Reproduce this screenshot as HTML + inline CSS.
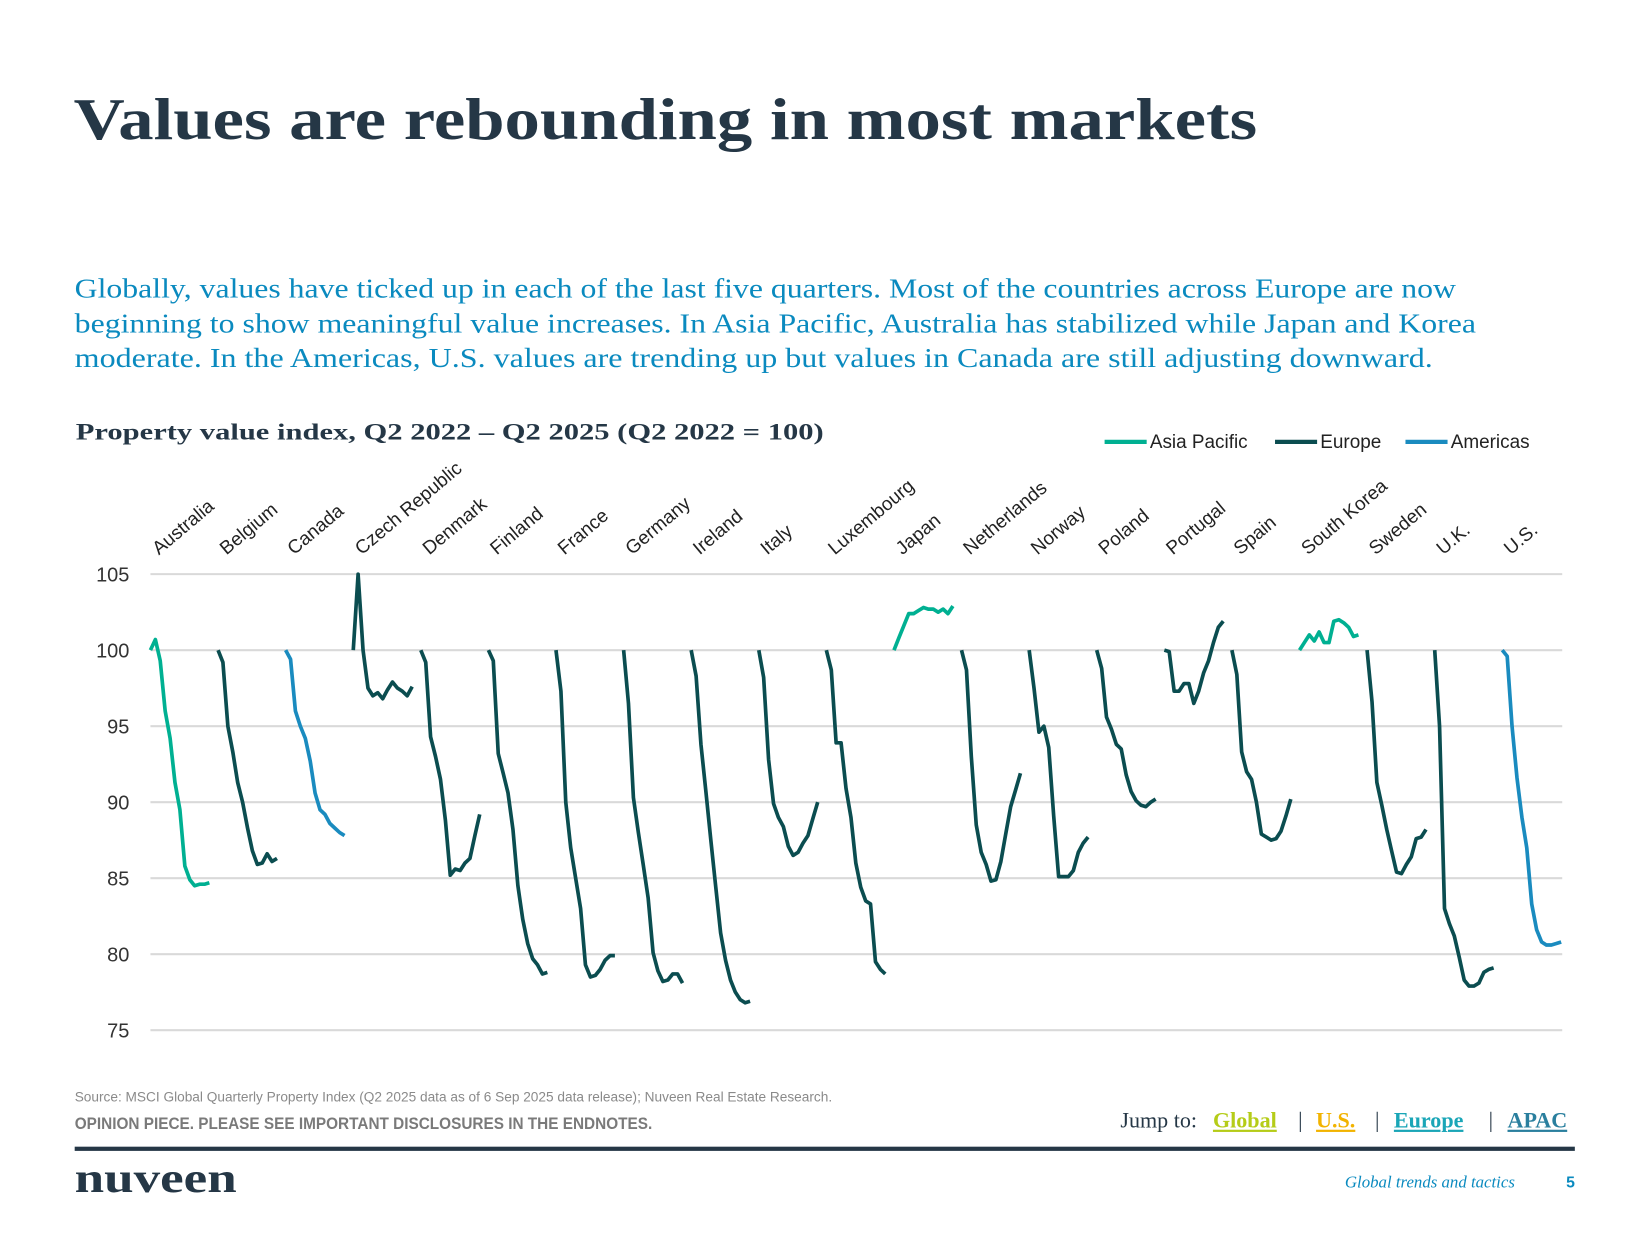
<!DOCTYPE html>
<html><head><meta charset="utf-8"><style>
html,body{margin:0;padding:0;background:#fff;}
svg{display:block;}
</style></head><body>
<svg id="s" width="1650" height="1238" viewBox="0 0 1650 1238" xmlns="http://www.w3.org/2000/svg">
<g transform="scale(1.052)">
<text x="70" y="132" font-family="Liberation Serif, serif" font-weight="bold" font-size="56" fill="#253746" textLength="1125" lengthAdjust="spacingAndGlyphs">Values are rebounding in most markets</text>
<g font-family="Liberation Serif, serif" font-size="26" fill="#0a8abf">
<text x="71" y="283" textLength="1313" lengthAdjust="spacingAndGlyphs">Globally, values have ticked up in each of the last five quarters. Most of the countries across Europe are now</text>
<text x="71" y="316" textLength="1332" lengthAdjust="spacingAndGlyphs">beginning to show meaningful value increases. In Asia Pacific, Australia has stabilized while Japan and Korea</text>
<text x="71" y="349" textLength="1291" lengthAdjust="spacingAndGlyphs">moderate. In the Americas, U.S. values are trending up but values in Canada are still adjusting downward.</text>
</g>
<text x="72" y="418" font-family="Liberation Serif, serif" font-weight="bold" font-size="22" fill="#253746" textLength="711" lengthAdjust="spacingAndGlyphs">Property value index, Q2 2022  – Q2 2025  (Q2 2022 = 100)</text>
<g font-family="Liberation Sans, sans-serif" font-size="18" fill="#222">
<line x1="1050" y1="420" x2="1090" y2="420" stroke="#00b092" stroke-width="4"/>
<text x="1093" y="426">Asia Pacific</text>
<line x1="1212" y1="420" x2="1252" y2="420" stroke="#0b4d50" stroke-width="4"/>
<text x="1255" y="426">Europe</text>
<line x1="1336" y1="420" x2="1376" y2="420" stroke="#1a8bbf" stroke-width="4"/>
<text x="1379" y="426">Americas</text>
</g>
<g id="grid"></g>
<g id="series"></g>
<g id="labels" font-family="Liberation Sans, sans-serif" font-size="18" fill="#222"></g>
<text x="71" y="1047" font-family="Liberation Sans, sans-serif" font-size="13.5" fill="#8a8a8a" textLength="720" lengthAdjust="spacingAndGlyphs">Source: MSCI Global Quarterly Property Index (Q2 2025 data as of 6 Sep 2025 data release); Nuveen Real Estate Research.</text>
<text x="71" y="1073" font-family="Liberation Sans, sans-serif" font-size="16" font-weight="bold" fill="#7a7a7a" textLength="549" lengthAdjust="spacingAndGlyphs">OPINION PIECE. PLEASE SEE IMPORTANT DISCLOSURES IN THE ENDNOTES.</text>
<g font-family="Liberation Serif, serif" font-size="21">
<text x="1065" y="1072" fill="#253746">Jump to:</text>
<text x="1153" y="1072" fill="#b5cc18" font-weight="bold" text-decoration="underline">Global</text>
<text x="1234" y="1072" fill="#253746">|</text>
<text x="1251" y="1072" fill="#f2b300" font-weight="bold" text-decoration="underline">U.S.</text>
<text x="1307" y="1072" fill="#253746">|</text>
<text x="1325" y="1072" fill="#1aa6b7" font-weight="bold" text-decoration="underline">Europe</text>
<text x="1415" y="1072" fill="#253746">|</text>
<text x="1433" y="1072" fill="#2a7f9e" font-weight="bold" text-decoration="underline">APAC</text>
</g>
<rect x="71" y="1090" width="1426" height="4" fill="#253746"/>
<text x="71" y="1133" font-family="Liberation Serif, serif" font-size="40" font-weight="bold" fill="#253746" textLength="154" lengthAdjust="spacingAndGlyphs">nuveen</text>
<text x="1440" y="1129" text-anchor="end" font-family="Liberation Serif, serif" font-style="italic" font-size="16" fill="#0a8abf">Global trends and tactics</text>
<text x="1497" y="1129" text-anchor="end" font-family="Liberation Sans, sans-serif" font-weight="bold" font-size="15" fill="#0a8abf">5</text>
</g>
</svg>
<script>
var NS="http://www.w3.org/2000/svg";
function Y(v){return 618+(100-v)*14.45;}
var g=document.getElementById('grid');
[105,100,95,90,85,80,75].forEach(function(v){
 var l=document.createElementNS(NS,'line');l.setAttribute('x1',143);l.setAttribute('x2',1485);l.setAttribute('y1',Y(v));l.setAttribute('y2',Y(v));l.setAttribute('stroke','#d9d9d9');l.setAttribute('stroke-width','2');g.appendChild(l);
 var t=document.createElementNS(NS,'text');t.setAttribute('x',123);t.setAttribute('y',Y(v)+7);t.setAttribute('text-anchor','end');t.setAttribute('font-family','Liberation Sans, sans-serif');t.setAttribute('font-size','19');t.setAttribute('fill','#333');t.textContent=v;g.appendChild(t);
});
var A='#00b092',E='#0b4d50',M='#1a8bbf';
var D=[
['Australia',A,[100,100.7,99.3,96.0,94.2,91.3,89.5,85.8,84.9,84.5,84.6,84.6,84.7]],
['Belgium',E,[100,99.2,95,93.3,91.3,90,88.3,86.8,85.9,86.0,86.6,86.1,86.3]],
['Canada',M,[100,99.4,96,95,94.2,92.7,90.6,89.5,89.2,88.6,88.3,88.0,87.8]],
['Czech Republic',E,[100,105,100,97.5,97,97.2,96.8,97.4,97.9,97.5,97.3,97.0,97.6]],
['Denmark',E,[100,99.2,94.3,93,91.5,88.8,85.2,85.6,85.5,86,86.3,87.8,89.2]],
['Finland',E,[100,99.3,93.2,91.9,90.6,88.2,84.5,82.3,80.7,79.7,79.3,78.7,78.8]],
['France',E,[100,97.3,90,87,85,83,79.3,78.5,78.6,79,79.6,79.9,79.9]],
['Germany',E,[100,96.5,90.3,88,85.9,83.7,80.1,78.9,78.2,78.3,78.7,78.7,78.1]],
['Ireland',E,[100,98.3,93.8,90.7,87.5,84.4,81.4,79.6,78.3,77.5,77.0,76.8,76.9]],
['Italy',E,[100,98.2,92.8,89.9,89.0,88.4,87.1,86.5,86.7,87.3,87.8,88.9,90.0]],
['Luxembourg',E,[100,98.7,93.9,93.9,90.9,89,86,84.4,83.5,83.3,79.5,79,78.7]],
['Japan',A,[100,100.8,101.6,102.4,102.4,102.6,102.8,102.7,102.7,102.5,102.7,102.4,102.9]],
['Netherlands',E,[100,98.7,93,88.5,86.7,85.9,84.8,84.9,86.1,87.9,89.7,90.8,91.9]],
['Norway',E,[100,97.5,94.6,95,93.6,89.1,85.1,85.1,85.1,85.5,86.7,87.3,87.7]],
['Poland',E,[100,98.8,95.6,94.8,93.8,93.5,91.8,90.7,90.1,89.8,89.7,90.0,90.2]],
['Portugal',E,[100,99.9,97.3,97.3,97.8,97.8,96.5,97.3,98.5,99.3,100.5,101.5,101.9]],
['Spain',E,[100,98.4,93.3,92.0,91.5,90,87.9,87.7,87.5,87.6,88.1,89.1,90.2]],
['South Korea',A,[100,100.5,101.0,100.6,101.2,100.5,100.5,101.9,102.0,101.8,101.5,100.9,101.0]],
['Sweden',E,[100,96.6,91.3,89.8,88.2,86.8,85.4,85.3,85.9,86.4,87.6,87.7,88.2]],
['U.K.',E,[100,95,83,82,81.2,79.8,78.3,77.9,77.9,78.1,78.8,79.0,79.1]],
['U.S.',M,[100,99.6,95,91.6,89,87,83.3,81.6,80.8,80.6,80.6,80.7,80.8]]
];
var S=document.getElementById('series'),L=document.getElementById('labels');
D.forEach(function(d,i){
 var x0=143+i*64.25,pts=[];
 d[2].forEach(function(v,j){pts.push((x0+j*4.67).toFixed(1)+','+Y(v).toFixed(1));});
 var p=document.createElementNS(NS,'polyline');p.setAttribute('points',pts.join(' '));p.setAttribute('fill','none');p.setAttribute('stroke',d[1]);p.setAttribute('stroke-width','3.5');p.setAttribute('stroke-linejoin','round');S.appendChild(p);
 var t=document.createElementNS(NS,'text');var tx=x0+8,ty=528;t.setAttribute('x',tx);t.setAttribute('y',ty);t.setAttribute('transform','rotate(-40 '+tx+' '+ty+')');t.textContent=d[0];L.appendChild(t);
});
</script>
</body></html>
